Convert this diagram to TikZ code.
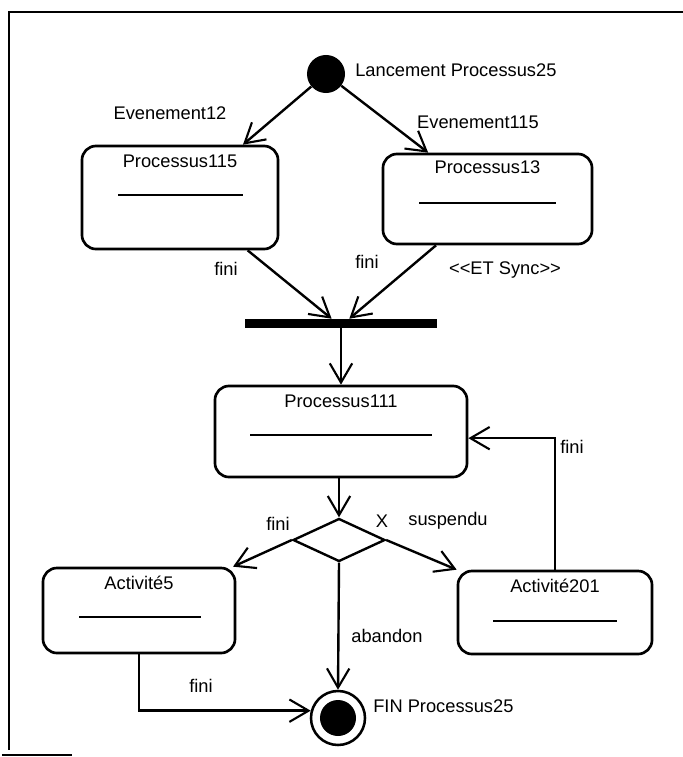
\documentclass[tikz,border=0pt]{standalone}
\usepackage{fontspec}
\setmainfont{Liberation Sans}
\usepackage{tikz}
\usetikzlibrary{arrows.meta,positioning,shapes.geometric}
\tikzset{
  actbox/.style={draw, line width=1.9pt, rounded corners=3.5mm, inner sep=0pt},
  boxtitle/.style={inner sep=0pt, anchor=base},
  sepline/.style={line width=1pt},
  lbl/.style={inner sep=0pt},
  flowarr/.style={-{Straight Barb[length=4.8mm,width=5.6mm,line width=1.5pt]}, line width=1.7pt},
  syncbar/.style={fill=black, minimum width=4.8cm, minimum height=0.225cm, inner sep=0pt},
  startnode/.style={circle, fill=black, minimum size=0.95cm, inner sep=0pt},
  endnode/.style={circle, draw, line width=1.8pt, minimum size=1.35cm, inner sep=0pt,
                  path picture={\fill (path picture bounding box.center) circle (0.45cm);}},
  decnode/.style={diamond, draw, line width=1.7pt, minimum width=2.3cm, minimum height=1.075cm, inner sep=0pt},
  framel/.style={line width=1.4pt}
}
\begin{document}
\begin{tikzpicture}[x=0.025cm, y=-0.025cm, font=\fontsize{13}{15}\selectfont]
\useasboundingbox (0,0) rectangle (683,757);
% cadre
\draw[framel] (683,12) -- (9,12) -- (9,750);
\draw[framel] (2,755) -- (72,755);

% etats
\node[startnode] (start) at (326,74) {};
\node[lbl, anchor=west] (startlbl) at (355,70) {Lancement Processus25};

\node[actbox, minimum width=4.9cm, minimum height=2.575cm] (p115) at (180,197.5) {};
\node[boxtitle] (p115t) at ([yshift=-0.56cm]p115.north) {Processus115};
\draw[sepline] (p115.center) ++(-62,-2.5) -- ++(125,0);

\node[actbox, minimum width=5.225cm, minimum height=2.25cm] (p13) at (487.5,199) {};
\node[boxtitle] (p13t) at ([yshift=-0.52cm]p13.north) {Processus13};
\draw[sepline] (p13.center) ++(-68.5,4) -- ++(137,0);

\node[syncbar] (bar) at (341,323.5) {};

\node[actbox, minimum width=6.3cm, minimum height=2.275cm] (p111) at (341,431.5) {};
\node[boxtitle] (p111t) at ([yshift=-0.58cm]p111.north) {Processus111};
\draw[sepline] (p111.center) ++(-91,3.5) -- ++(182,0);

\node[decnode] (dec) at (339,540) {};

\node[actbox, minimum width=4.8cm, minimum height=2.125cm] (a5) at (139,610.5) {};
\node[boxtitle] (a5t) at ([yshift=-0.58cm]a5.north) {Activité5};
\draw[sepline] (a5.center) ++(-60,6.5) -- ++(122,0);

\node[actbox, minimum width=4.85cm, minimum height=2.075cm] (a201) at (555,612.5) {};
\node[boxtitle] (a201t) at ([yshift=-0.56cm]a201.north) {Activité201};
\draw[sepline] (a201.center) ++(-62,8.5) -- ++(124,0);

\node[endnode] (fin) at (338,718) {};
\node[lbl, anchor=west] (finlbl) at (373,706) {FIN Processus25};

% transitions
\draw[flowarr] (start) -- (p115.40);
\draw[flowarr] (start) -- (p13.142);
\draw[flowarr] (p115.-38) -- (bar.153);
\draw[flowarr] (p13.222) -- (bar.30);
\draw[flowarr] (bar.south) -- (p111.north);
\draw[flowarr, line width=0.8pt] (p111.south -| dec.north) -- (dec.north);
\draw[flowarr] (dec.west) -- (a5.25);
\draw[flowarr] (dec.east) -- (a201.north west);
\draw[flowarr] (dec.south) -- (fin.north);
\draw[flowarr] (a201.north) |- (p111.-3);
\draw[flowarr] (a5.south) |- (fin.165);

% etiquettes
\node[lbl] (ev12) at (170,113) {Evenement12};
\node[lbl] (ev115) at (478,122) {Evenement115};
\node[lbl] (fini1) at (226,269) {fini};
\node[lbl] (fini2) at (367,262) {fini};
\node[lbl] (etsync) at (505,270) {<\kern0pt<ET Sync>\kern0pt>};
\node[lbl] (fini3) at (572,447) {fini};
\node[lbl] (fini4) at (278,524) {fini};
\node[lbl] (xlbl) at (382,521) {X};
\node[lbl] (susp) at (448,521) {suspendu};
\node[lbl] (aband) at (387,636) {abandon};
\node[lbl] (fini5) at (201,686) {fini};
\end{tikzpicture}
\end{document}
